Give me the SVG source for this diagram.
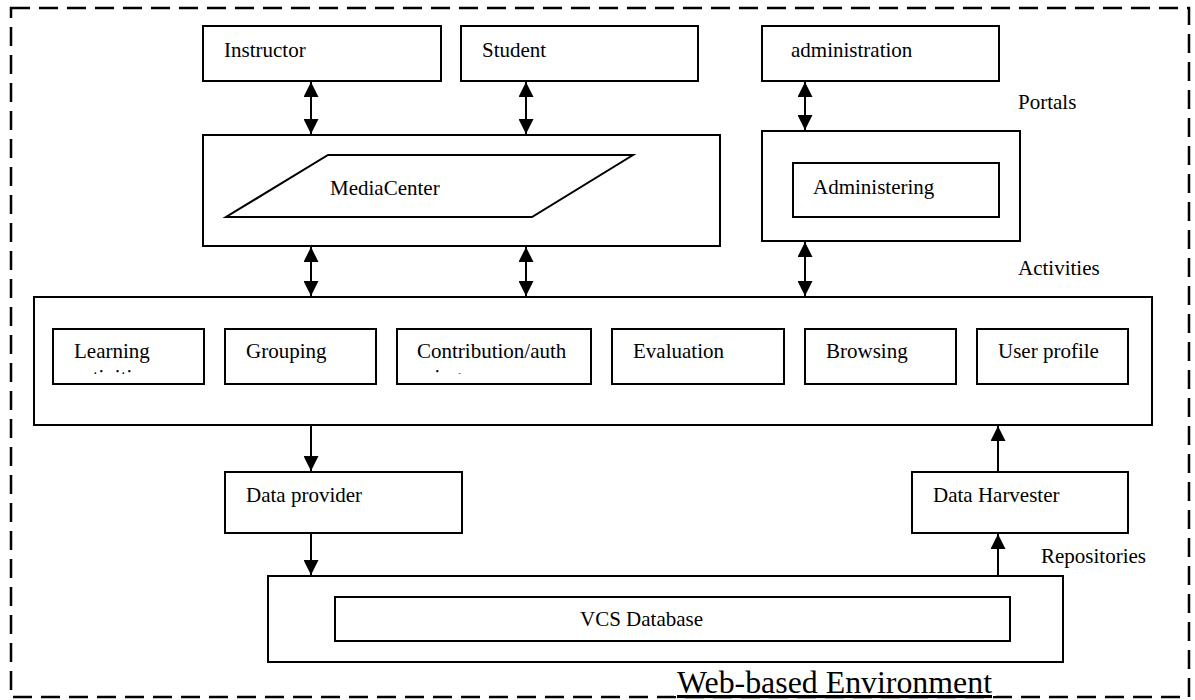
<svg xmlns="http://www.w3.org/2000/svg" width="1195" height="700" viewBox="0 0 1195 700" font-family="Liberation Serif, Times New Roman, serif">
<defs>
<style>
.box{fill:#fff;stroke:#000;stroke-width:2}
.t{font-size:21px;fill:#000}
.c{stroke:#000;stroke-width:2;fill:none}
</style>
<marker id="ah" viewBox="0 0 15 15" refX="15" refY="7.5" markerWidth="15" markerHeight="15" orient="auto-start-reverse" markerUnits="userSpaceOnUse">
<path d="M0,0 L15,7.5 L0,15 z" fill="#000"/>
</marker>
<clipPath id="clipL"><rect x="53" y="330" width="151" height="44"/></clipPath>
<clipPath id="clipC"><rect x="397" y="330" width="194" height="44"/></clipPath>
</defs>
<rect width="1195" height="700" fill="#fff"/>
<g id="environment">
<rect x="11" y="8" width="1178" height="689" fill="none" stroke="#000" stroke-width="2.5" stroke-dasharray="19 9"/>
<rect x="674" y="670" width="322" height="26" fill="#fff"/>
<text x="677" y="693" font-size="31" textLength="315" lengthAdjust="spacingAndGlyphs" text-decoration="underline" fill="#000">Web-based Environment</text>
</g>
<g id="labels">
<text class="t" x="1018" y="109">Portals</text>
<text class="t" x="1018" y="275">Activities</text>
<text class="t" x="1041" y="563">Repositories</text>
</g>
<g id="instructor"><rect class="box" x="203" y="26" width="238" height="55"/><text class="t" x="224" y="57">Instructor</text></g>
<g id="student"><rect class="box" x="461" y="26" width="237" height="55"/><text class="t" x="482" y="57">Student</text></g>
<g id="administration"><rect class="box" x="762" y="26" width="237" height="55"/><text class="t" x="791" y="57">administration</text></g>
<g id="mediacenter">
<rect class="box" x="203" y="135" width="517" height="111"/>
<polygon class="box" points="328,155 633,155 532,217 226,217"/>
<text class="t" x="330" y="195">MediaCenter</text>
</g>
<g id="administering">
<rect class="box" x="762" y="131" width="258" height="110"/>
<rect class="box" x="793" y="163" width="206" height="54"/>
<text class="t" x="813" y="194">Administering</text>
</g>
<g id="activities">
<rect class="box" x="34" y="297" width="1118" height="128"/>
</g>
<g id="learning"><rect class="box" x="53" y="329" width="151" height="55"/><text class="t" x="74" y="358">Learning</text><text class="t" x="74" y="384" clip-path="url(#clipL)">activities</text></g>
<g id="grouping"><rect class="box" x="225" y="329" width="151" height="55"/><text class="t" x="246" y="358">Grouping</text></g>
<g id="contribution"><rect class="box" x="397" y="329" width="194" height="55"/><text class="t" x="417" y="358">Contribution/auth</text><text class="t" x="417" y="384" clip-path="url(#clipC)">oring</text></g>
<g id="evaluation"><rect class="box" x="612" y="329" width="172" height="55"/><text class="t" x="633" y="358">Evaluation</text></g>
<g id="browsing"><rect class="box" x="805" y="329" width="151" height="55"/><text class="t" x="826" y="358">Browsing</text></g>
<g id="userprofile"><rect class="box" x="977" y="329" width="151" height="55"/><text class="t" x="998" y="358">User profile</text></g>
<g id="dataprovider"><rect class="box" x="225" y="472" width="237" height="61"/><text class="t" x="246" y="502">Data provider</text></g>
<g id="dataharvester"><rect class="box" x="912" y="472" width="216" height="61"/><text class="t" x="933" y="502">Data Harvester</text></g>
<g id="vcs">
<rect class="box" x="268" y="576" width="795" height="86"/>
<rect class="box" x="335" y="597" width="675" height="44"/>
<text class="t" x="580" y="626">VCS Database</text>
</g>
<g id="connectors">
<line class="c" x1="311" y1="82" x2="311" y2="134" marker-start="url(#ah)" marker-end="url(#ah)"/>
<line class="c" x1="526" y1="82" x2="526" y2="134" marker-start="url(#ah)" marker-end="url(#ah)"/>
<line class="c" x1="805" y1="82" x2="805" y2="130" marker-start="url(#ah)" marker-end="url(#ah)"/>
<line class="c" x1="311" y1="247" x2="311" y2="296" marker-start="url(#ah)" marker-end="url(#ah)"/>
<line class="c" x1="526" y1="247" x2="526" y2="296" marker-start="url(#ah)" marker-end="url(#ah)"/>
<line class="c" x1="805" y1="242" x2="805" y2="296" marker-start="url(#ah)" marker-end="url(#ah)"/>
<line class="c" x1="311" y1="426" x2="311" y2="471" marker-end="url(#ah)"/>
<line class="c" x1="311" y1="534" x2="311" y2="575" marker-end="url(#ah)"/>
<line class="c" x1="998" y1="575" x2="998" y2="534" marker-end="url(#ah)"/>
<line class="c" x1="998" y1="471" x2="998" y2="426" marker-end="url(#ah)"/>
</g>
</svg>
